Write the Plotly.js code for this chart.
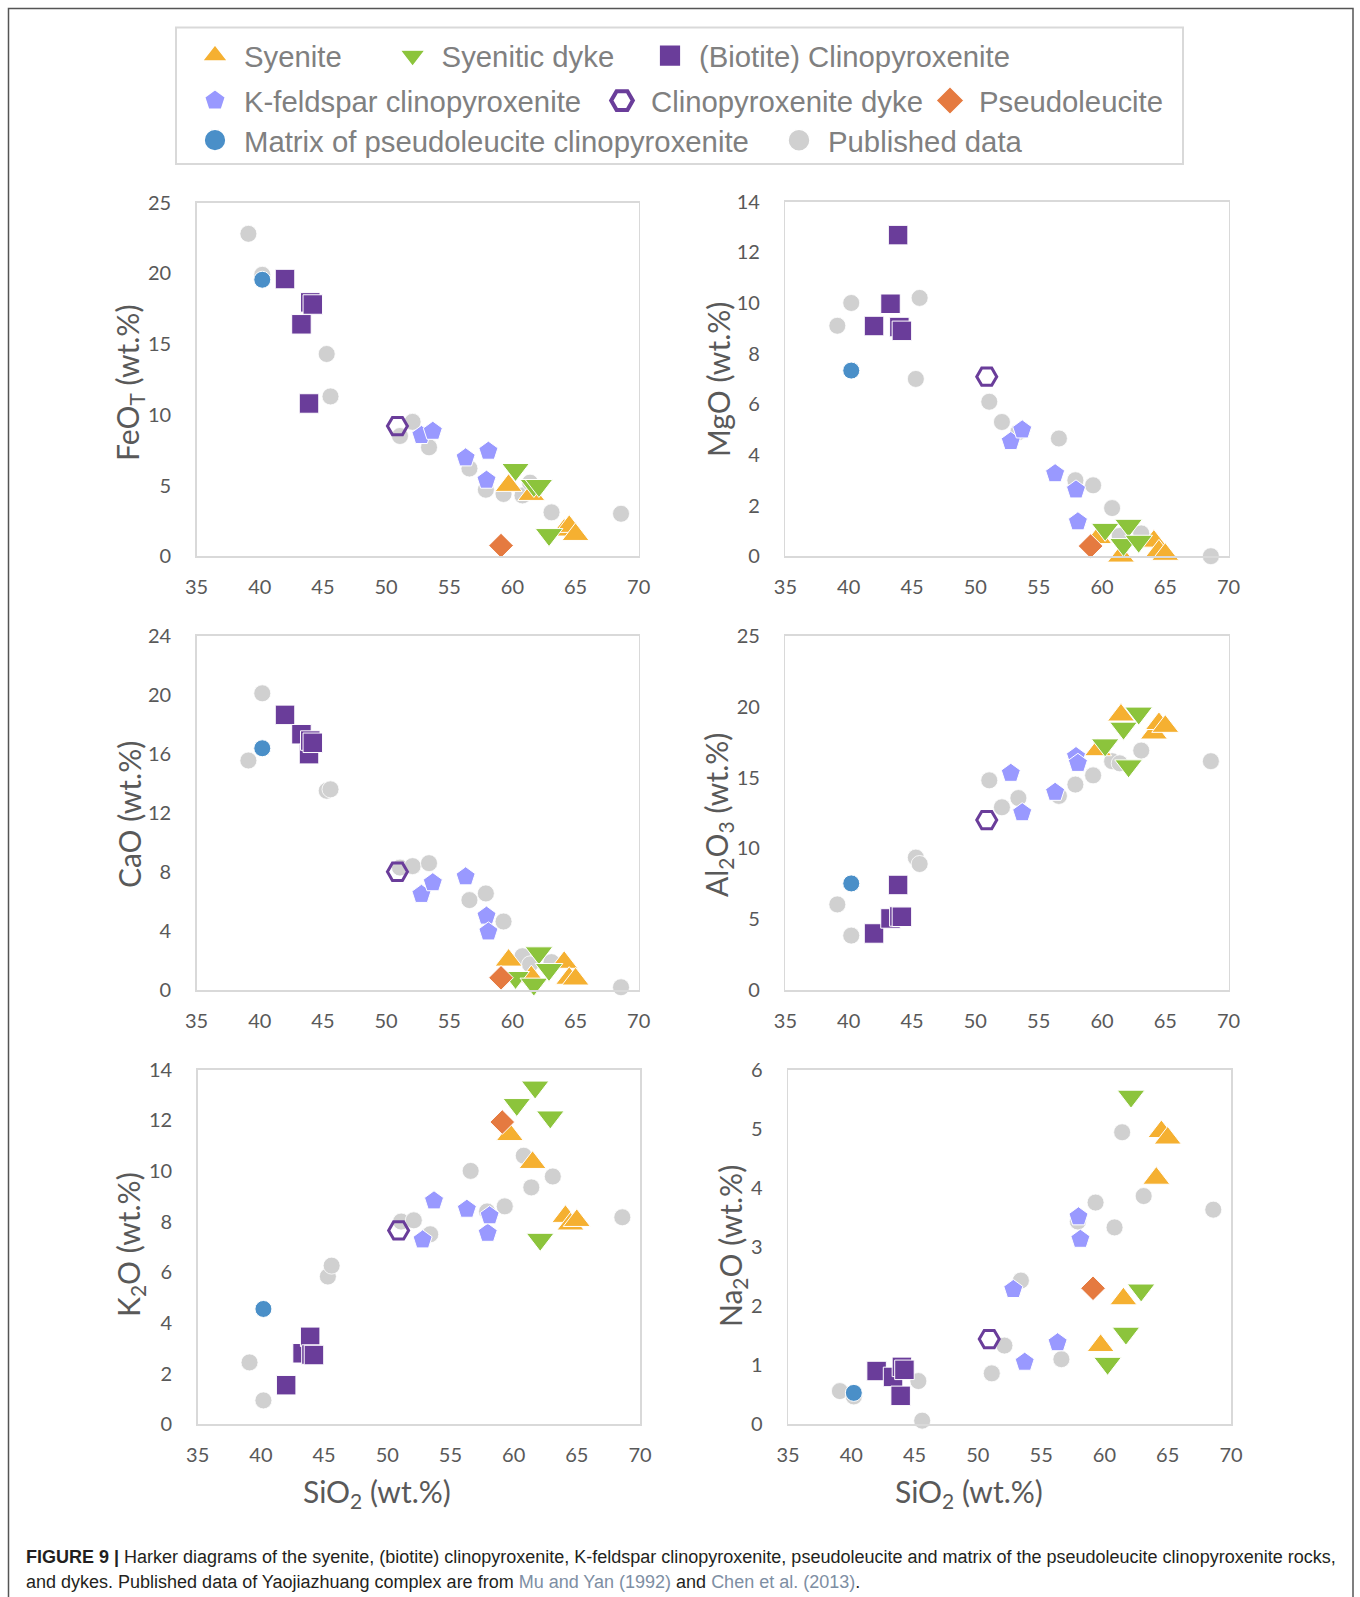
<!DOCTYPE html>
<html>
<head>
<meta charset="utf-8">
<script src="https://cdn.plot.ly/plotly-3.0.1.min.js"></script>
<style>
html,body{margin:0;padding:0;background:#ffffff;}
#chart{width:1360px;height:1597px;}
/* Plotly caps legend symbols at 16 px; enlarge them (symbol centre sits at 29 px in each legend item) */
#chart g.legendpoints path.scatterpts{transform:translate(29px,0px) scale(1.35);}
</style>
</head>
<body>
<div id="chart"></div>
<script>
// ---------------- DATA (wt.%) ----------------
// Published data (Mu and Yan 1992; Chen et al. 2013)
const pubSiO2  = [39.1, 40.2, 45.3, 45.6, 51.1, 52.1, 53.4, 56.6, 57.9, 59.3, 60.8, 61.4, 63.1, 68.6];
const pubFeOT  = [22.8, 19.9, 14.3, 11.3, 8.5, 9.5, 7.7, 6.2, 4.7, 4.4, 4.3, 5.2, 3.1, 3.0];
const pubMgO   = [9.1, 10.0, 7.0, 10.2, 6.1, 5.3, 4.9, 4.65, 3.0, 2.8, 1.9, 0.8, 0.9, 0.0];
const pubCaO   = [15.55, 20.1, 13.5, 13.6, 8.3, 8.4, 8.6, 6.1, 6.55, 4.65, 2.3, 1.75, 1.9, 0.2];
const pubAl2O3 = [6.05, 3.85, 9.35, 8.9, 14.8, 12.9, 13.55, 13.7, 14.5, 15.15, 16.15, 16.0, 16.9, 16.15];
const pubK2O   = [2.44, 0.94, 5.83, 6.26, 8.0, 8.05, 7.5, 10.0, 8.4, 8.6, 10.6, 9.35, 9.78, 8.17];
const pubNa2O  = [0.56, 0.47, 0.73, 0.06, 0.86, 1.33, 2.43, 1.1, 3.43, 3.75, 3.33, 4.94, 3.86, 3.63];

// Syenite
const syeSiO2  = [59.7, 61.5, 64.1, 64.5, 65.0];
const syeFeOT  = [5.0, 4.36, 1.84, 2.1, 1.53];
const syeMgO   = [0.73, 0.0, 0.59, 0.2, 0.07];
const syeCaO   = [2.03, 0.9, 1.88, 0.8, 0.75];
const syeAl2O3 = [16.95, 19.4, 18.13, 18.8, 18.6];
const syeK2O   = [11.43, 10.33, 8.2, 7.9, 8.04];
const syeNa2O  = [1.33, 2.12, 4.16, 4.95, 4.84];

// Syenitic dyke
const dykSiO2  = [60.25, 61.7, 62.1, 62.9];
const dykFeOT  = [6.13, 5.0, 5.0, 1.53];
const dykMgO   = [1.06, 0.46, 1.22, 0.59];
const dykCaO   = [0.86, 0.41, 2.53, 1.4];
const dykAl2O3 = [17.3, 18.48, 15.82, 19.54];
const dykK2O   = [12.62, 13.31, 7.3, 12.13];
const dykNa2O  = [1.03, 1.54, 5.55, 2.27];

// (Biotite) Clinopyroxenite
const bcpSiO2  = [42.0, 43.3, 43.9, 44.0, 44.2];
const bcpFeOT  = [19.6, 16.4, 10.8, 17.95, 17.8];
const bcpMgO   = [9.09, 9.97, 12.68, 9.05, 8.9];
const bcpCaO   = [18.64, 17.33, 15.98, 16.9, 16.75];
const bcpAl2O3 = [4.0, 5.06, 7.42, 5.2, 5.18];
const bcpK2O   = [1.54, 2.8, 3.45, 2.75, 2.73];
const bcpNa2O  = [0.9, 0.8, 0.48, 0.97, 0.92];

// K-feldspar clinopyroxenite
const kfcSiO2  = [52.8, 53.7, 56.3, 57.95, 58.1];
const kfcFeOT  = [8.54, 8.84, 6.96, 5.38, 7.43];
const kfcMgO   = [4.53, 4.99, 3.26, 2.62, 1.36];
const kfcCaO   = [6.49, 7.28, 7.68, 5.02, 3.95];
const kfcAl2O3 = [15.3, 12.52, 13.96, 16.48, 16.0];
const kfcK2O   = [7.28, 8.82, 8.49, 7.54, 8.23];
const kfcNa2O  = [2.28, 1.05, 1.38, 3.51, 3.13];

// Clinopyroxenite dyke
const cdkSiO2  = [50.9];
const cdkFeOT  = [9.2];
const cdkMgO   = [7.09];
const cdkCaO   = [8.02];
const cdkAl2O3 = [12.0];
const cdkK2O   = [7.65];
const cdkNa2O  = [1.44];

// Pseudoleucite
const psdSiO2  = [59.1];
const psdFeOT  = [0.75];
const psdMgO   = [0.4];
const psdCaO   = [0.84];
const psdAl2O3 = [null];
const psdK2O   = [11.93];
const psdNa2O  = [2.3];

// Matrix of pseudoleucite clinopyroxenite
const mtxSiO2  = [40.2];
const mtxFeOT  = [19.55];
const mtxMgO   = [7.33];
const mtxCaO   = [16.38];
const mtxAl2O3 = [7.53];
const mtxK2O   = [4.55];
const mtxNa2O  = [0.53];

// ---------------- SERIES / STYLES ----------------
const series = [
  {name:'Published data', si:pubSiO2, v:[pubFeOT,pubMgO,pubCaO,pubAl2O3,pubK2O,pubNa2O],
   marker:{symbol:'circle', size:17, color:'#D0D0D0', line:{color:'#ffffff', width:0.8}}, lg:'legend8'},
  {name:'Syenite', si:syeSiO2, v:[syeFeOT,syeMgO,syeCaO,syeAl2O3,syeK2O,syeNa2O],
   marker:{symbol:'triangle-up', size:23.5, color:'#F5B031', line:{color:'#ffffff', width:1}}, lg:'legend'},
  {name:'Syenitic dyke', si:dykSiO2, v:[dykFeOT,dykMgO,dykCaO,dykAl2O3,dykK2O,dykNa2O],
   marker:{symbol:'triangle-down', size:24, color:'#8CC43C', line:{color:'#ffffff', width:1}}, lg:'legend2'},
  {name:'(Biotite) Clinopyroxenite', si:bcpSiO2, v:[bcpFeOT,bcpMgO,bcpCaO,bcpAl2O3,bcpK2O,bcpNa2O],
   marker:{symbol:'square', size:19.5, color:'#6A3D9A', line:{color:'#ffffff', width:1}}, lg:'legend3'},
  {name:'K-feldspar clinopyroxenite', si:kfcSiO2, v:[kfcFeOT,kfcMgO,kfcCaO,kfcAl2O3,kfcK2O,kfcNa2O],
   marker:{symbol:'pentagon', size:20, color:'#9999FF', line:{color:'#ffffff', width:1}}, lg:'legend4'},
  {name:'Clinopyroxenite dyke', si:cdkSiO2, v:[cdkFeOT,cdkMgO,cdkCaO,cdkAl2O3,cdkK2O,cdkNa2O],
   marker:{symbol:'hexagon2-open', size:20, color:'#6A3D9A', line:{color:'#6A3D9A', width:3}}, lg:'legend5'},
  {name:'Pseudoleucite', si:psdSiO2, v:[psdFeOT,psdMgO,psdCaO,psdAl2O3,psdK2O,psdNa2O],
   marker:{symbol:'diamond', size:19, color:'#E57A40', line:{color:'#ffffff', width:1}}, lg:'legend6'},
  {name:'Matrix of pseudoleucite clinopyroxenite', si:mtxSiO2, v:[mtxFeOT,mtxMgO,mtxCaO,mtxAl2O3,mtxK2O,mtxNa2O],
   marker:{symbol:'circle', size:17, color:'#4A8FC8', line:{color:'#ffffff', width:1}}, lg:'legend7'}
];

// ---------------- LAYOUT GEOMETRY (pixels) ----------------
const W = 1360, H = 1597;
const px = v => v / W;
const py = v => 1 - v / H;

const panels = [
  {x0:196.6, x1:638.7,  y0:202.7,  y1:556.2,  yr:[0,25], dt:5, title:'FeO<sub>T</sub> (wt.%)',   tx:129, ty:383},
  {x0:785.4, x1:1228.6, y0:201.7,  y1:556.2,  yr:[0,14], dt:2, title:'MgO (wt.%)',               tx:718, ty:380},
  {x0:196.6, x1:638.7,  y0:635.7,  y1:990.2,  yr:[0,24], dt:4, title:'CaO (wt.%)',               tx:129, ty:815},
  {x0:785.4, x1:1228.6, y0:635.7,  y1:990.2,  yr:[0,25], dt:5, title:'Al<sub>2</sub>O<sub>3</sub> (wt.%)', tx:718, ty:815},
  {x0:197.7, x1:640.0,  y0:1069.6, y1:1424.2, yr:[0,14], dt:2, title:'K<sub>2</sub>O (wt.%)',    tx:130, ty:1245},
  {x0:788.0, x1:1231.0, y0:1069.6, y1:1424.2, yr:[0,6],  dt:1, title:'Na<sub>2</sub>O (wt.%)',   tx:732, ty:1246}
];

const tickFont = {family:'Lato, "Open Sans", sans-serif', size:20, color:'#595959'};
const titleFont = {family:'Lato, "Open Sans", sans-serif', size:30, color:'#595959'};

const layout = {
  width: W, height: H,
  margin:{l:0, r:0, t:0, b:0},
  paper_bgcolor:'#ffffff', plot_bgcolor:'#ffffff',
  showlegend:true,
  annotations:[], shapes:[]
};

panels.forEach((p, i) => {
  const n = i === 0 ? '' : String(i + 1);
  layout['xaxis' + n] = {
    domain:[px(p.x0), px(p.x1)], range:[35,70], tick0:35, dtick:5,
    anchor:'y' + n, showgrid:false, zeroline:false,
    showline:true, mirror:true, linecolor:'#D9D9D9', linewidth:1.5,
    ticks:'', tickfont:tickFont, ticklabelstandoff:12, fixedrange:true
  };
  layout['yaxis' + n] = {
    domain:[py(p.y1), py(p.y0)], range:p.yr, tick0:0, dtick:p.dt,
    anchor:'x' + n, showgrid:false, zeroline:false,
    showline:true, mirror:true, linecolor:'#D9D9D9', linewidth:1.5,
    ticks:'', tickfont:tickFont, ticklabelstandoff:20, fixedrange:true
  };
  layout.annotations.push({
    xref:'paper', yref:'paper', x:px(p.tx), y:py(p.ty), xanchor:'center', yanchor:'middle',
    text:p.title, textangle:-90, showarrow:false, font:titleFont
  });
});

// x-axis titles (bottom row)
layout.annotations.push({xref:'paper', yref:'paper', x:px(377), y:py(1493), xanchor:'center', yanchor:'middle',
  text:'SiO<sub>2</sub> (wt.%)', showarrow:false, font:titleFont});
layout.annotations.push({xref:'paper', yref:'paper', x:px(969), y:py(1493), xanchor:'center', yanchor:'middle',
  text:'SiO<sub>2</sub> (wt.%)', showarrow:false, font:titleFont});

// caption
const capFont = {family:'"Liberation Sans", Arial, sans-serif', size:18, color:'#231F20'};
layout.annotations.push({xref:'paper', yref:'paper', x:px(24), y:py(1557), xanchor:'left', yanchor:'middle', showarrow:false, font:capFont,
  text:'<b>FIGURE 9 |</b> Harker diagrams of the syenite, (biotite) clinopyroxenite, K-feldspar clinopyroxenite, pseudoleucite and matrix of the pseudoleucite clinopyroxenite rocks,'});
layout.annotations.push({xref:'paper', yref:'paper', x:px(24), y:py(1582), xanchor:'left', yanchor:'middle', showarrow:false, font:capFont,
  text:'and dykes. Published data of Yaojiazhuang complex are from <span style="color:#7D8EA3">Mu and Yan (1992)</span> and <span style="color:#7D8EA3">Chen et al. (2013)</span>.'});

// outer frame and legend box
layout.shapes.push({type:'rect', xref:'paper', yref:'paper', x0:px(8.5), x1:px(1353), y0:py(8.5), y1:py(1650),
  line:{color:'#555555', width:1.5}, fillcolor:'rgba(0,0,0,0)', layer:'below'});
layout.shapes.push({type:'rect', xref:'paper', yref:'paper', x0:px(176), x1:px(1183), y0:py(27.5), y1:py(164),
  line:{color:'#D9D9D9', width:2}, fillcolor:'rgba(0,0,0,0)', layer:'below'});

// legends: one per item, placed like the reference
const legendPos = {
  legend:  {sx:215,   ry:56},
  legend2: {sx:412.6, ry:56},
  legend3: {sx:670,   ry:56},
  legend4: {sx:215,   ry:101},
  legend5: {sx:622,   ry:101},
  legend6: {sx:950,   ry:101},
  legend7: {sx:215,   ry:140.6},
  legend8: {sx:799,   ry:140.6}
};
const ITEMW = 48;
Object.keys(legendPos).forEach(k => {
  const L = legendPos[k];
  layout[k] = {
    x:px(L.sx - (ITEMW + 10) / 2), xanchor:'left', y:py(L.ry), yanchor:'middle',
    orientation:'h', bgcolor:'rgba(0,0,0,0)', borderwidth:0, itemwidth:ITEMW,
    font:{family:'"Liberation Sans", Arial, sans-serif', size:29.3, color:'#808080'}
  };
});

// traces
const traces = [];
series.forEach(s => {
  panels.forEach((p, i) => {
    const n = i === 0 ? '' : String(i + 1);
    traces.push({
      type:'scatter', mode:'markers', name:s.name,
      x:s.si, y:s.v[i], xaxis:'x' + n, yaxis:'y' + n,
      marker:s.marker, cliponaxis:false, hoverinfo:'skip',
      legendgroup:s.name, showlegend:i === 0, legend:s.lg
    });
  });
});

Plotly.newPlot('chart', traces, layout, {staticPlot:true, displayModeBar:false});
</script>
</body>
</html>
